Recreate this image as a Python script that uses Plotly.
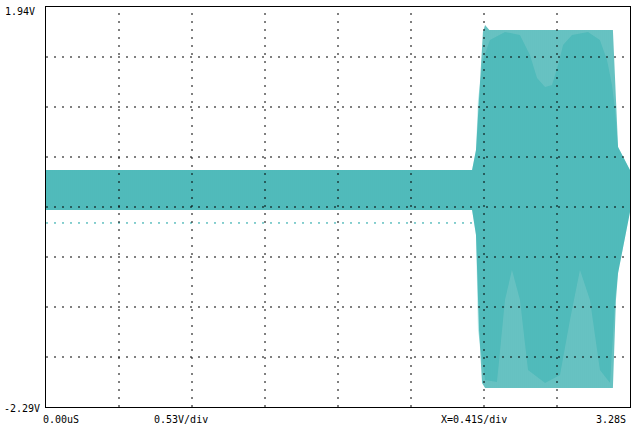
import plotly.graph_objects as go

# ---- axis scale (oscilloscope screen) ----
V_TOP = 1.94
V_BOT = -2.29
T_END = 3.28
X_DIVS = 8
Y_DIVS = 8

# ---- trace colours ----
TEAL = "#14a0a0"
LIGHT = "#bfeaea"

# reference level marker (dashed teal line)
ref_level = -0.344

# ---- outer envelope of the waveform ----
t_up_outer = [0.0, 2.393, 2.415, 2.432, 2.454, 2.466, 2.49, 3.184, 3.201, 3.213, 3.28]
v_up_outer = [0.216, 0.216, 0.428, 1.009, 1.676, 1.750, 1.697, 1.697, 0.957, 0.460, 0.216]
t_lo_outer = [0.0, 2.393, 2.415, 2.432, 2.449, 2.466, 3.184, 3.201, 3.213, 3.28]
v_lo_outer = [-0.207, -0.207, -0.471, -1.476, -2.036, -2.089, -2.089, -1.158, -0.873, -0.228]

# ---- dense (inner) region of the waveform ----
t_up_inner = [0.0, 2.393, 2.415, 2.426, 2.454, 2.493, 2.578, 2.662, 2.718, 2.758, 2.803,
              2.842, 2.876, 2.904, 2.954, 3.044, 3.111, 3.151, 3.179, 3.196, 3.213, 3.28]
v_up_inner = [0.216, 0.216, 0.428, 0.957, 1.380, 1.591, 1.676, 1.644, 1.432, 1.189, 1.094,
              1.115, 1.327, 1.538, 1.644, 1.676, 1.591, 1.380, 1.115, 0.851, 0.460, 0.216]
t_lo_inner = [0.0, 2.393, 2.415, 2.426, 2.466, 2.533, 2.578, 2.617, 2.662, 2.707, 2.803,
              2.887, 2.943, 2.999, 3.055, 3.111, 3.168, 3.196, 3.213, 3.28]
v_lo_inner = [-0.207, -0.207, -0.471, -1.476, -2.004, -2.026, -1.158, -0.841, -1.158, -1.899, -2.036,
              -1.952, -1.370, -0.841, -1.158, -1.899, -2.036, -1.158, -0.873, -0.228]

# ---- screen labels ----
label_vtop = "1.94V"
label_vbot = "-2.29V"
label_t0 = "0.00uS"
label_vdiv = "0.53V/div"
label_tdiv = "X=0.41S/div"
label_tend = "3.28S"

FONT = dict(family="DejaVu Sans Mono", size=10, color="black")

fig = go.Figure()

# reference level line
fig.add_trace(go.Scatter(x=[0, T_END], y=[ref_level, ref_level], mode="lines",
                         line=dict(color=TEAL, width=1, dash="2px,6px"),
                         hoverinfo="skip", showlegend=False))

# dense inner region
fig.add_trace(go.Scatter(x=t_up_inner + t_lo_inner[::-1],
                         y=v_up_inner + v_lo_inner[::-1],
                         mode="lines", fill="toself", fillcolor=LIGHT,
                         line=dict(width=0), hoverinfo="skip", showlegend=False))

# striped waveform envelope
fig.add_trace(go.Scatter(x=t_up_outer + t_lo_outer[::-1],
                         y=v_up_outer + v_lo_outer[::-1],
                         mode="lines", fill="toself", fillcolor="rgba(0,0,0,0)",
                         fillpattern=dict(shape="|", size=2, solidity=0.65, fgopacity=1,
                                          fgcolor=TEAL, bgcolor="rgba(0,0,0,0)"),
                         line=dict(width=0), hoverinfo="skip", showlegend=False))

# dotted grid above the trace
dx = T_END / X_DIVS
dy = (V_TOP - V_BOT) / Y_DIVS
grid_line = dict(color="black", width=1, dash="2px,6px")
for i in range(1, X_DIVS):
    fig.add_shape(type="line", x0=i * dx, x1=i * dx, y0=V_BOT, y1=V_TOP,
                  line=grid_line, layer="above")
for j in range(1, Y_DIVS):
    fig.add_shape(type="line", x0=0, x1=T_END, y0=V_BOT + j * dy, y1=V_BOT + j * dy,
                  line=grid_line, layer="above")

fig.update_xaxes(range=[0, T_END], showgrid=False, zeroline=False, showticklabels=False,
                 ticks="", showline=True, mirror=True, linecolor="black", linewidth=1,
                 layer="above traces")
fig.update_yaxes(range=[V_BOT, V_TOP], showgrid=False, zeroline=False, showticklabels=False,
                 ticks="", showline=True, mirror=True, linecolor="black", linewidth=1,
                 layer="above traces")

# plot area in page pixels: x 46..630, y 7..407
PL, PR, PT, PB = 46, 630, 7, 407
W, H = float(PR - PL), float(PB - PT)

def label(text, x, y, xanchor):
    fig.add_annotation(text=text, x=(x - PL) / W, y=(PB - y) / H, xref="paper", yref="paper",
                       xanchor=xanchor, yanchor="middle", showarrow=False, font=FONT)

label(label_vtop, 3, 11, "left")
label(label_vbot, 2, 408, "left")
label(label_t0, 41, 419, "left")
label(label_vdiv, 152, 419, "left")
label(label_tdiv, 439, 419, "left")
label(label_tend, 628, 419, "right")

fig.update_layout(width=640, height=445,
                  margin=dict(l=PL, r=640 - PR, t=PT, b=445 - PB),
                  paper_bgcolor="white", plot_bgcolor="white", showlegend=False)

fig.write_html("out.html",
               config={"displayModeBar": False, "staticPlot": True},
               post_script="document.body.style.margin='0';document.body.style.overflow='hidden';")
